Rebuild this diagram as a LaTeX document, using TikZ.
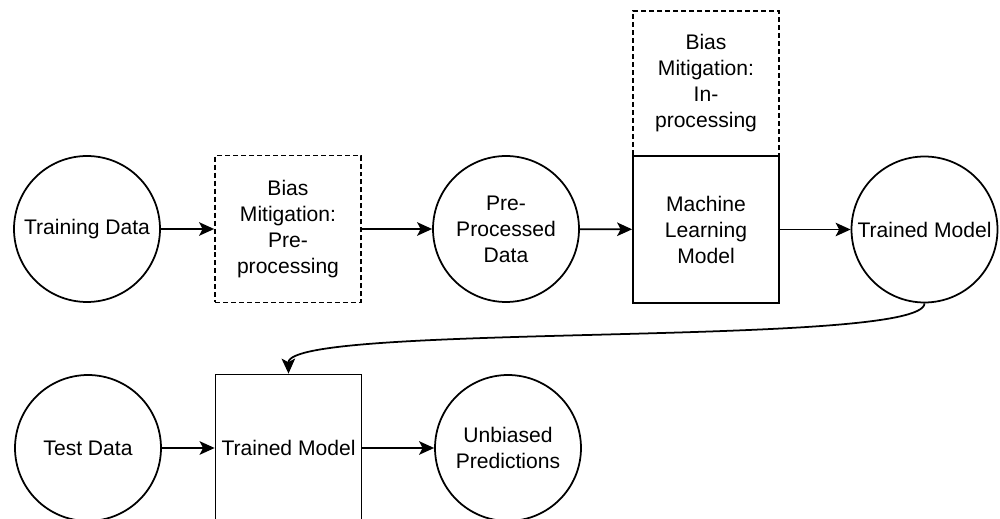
\documentclass[tikz,border=0pt]{standalone}
\usepackage{fontspec}
\setmainfont{Liberation Sans}
\usetikzlibrary{arrows.meta}
\begin{document}
\begin{tikzpicture}[x=0.02cm,y=-0.02cm,
  every node/.style={font=\fontsize{12}{14.8}\selectfont, align=center, line width=1pt},
  circ/.style={draw, circle, minimum size=2.92cm, inner sep=0pt},
  sbox/.style={draw, rectangle, minimum width=2.92cm, minimum height=2.94cm, inner sep=0pt},
  dbox/.style={sbox, dash pattern=on 0.1cm off 0.06cm},
  conn/.style={line width=1pt, -{Stealth[length=0.3cm, width=0.27cm, inset=0.07cm]}}
]
\useasboundingbox (0,0) rectangle (1000,519);
\node[circ] (train) at (87,229) {Training Data};
\node[dbox] (prebm) at (288,229) {Bias\\Mitigation:\\Pre-\\processing};
\node[circ] (ppd) at (506,229) {Pre-\\Processed\\Data};
\node[dbox, minimum height=2.9cm] (inbm) at (706,83.5) {Bias\\Mitigation:\\In-\\processing};
\node[sbox] (ml) at (706,229.5) {Machine\\Learning\\Model};
\node[circ] (tm) at (924.5,229.5) {Trained Model};
\node[circ] (test) at (88,448) {Test Data};
\node[sbox] (tm2) at (288.5,448) {Trained Model};
\node[circ] (unb) at (508,448) {Unbiased\\Predictions};
\draw[conn] (train) -- (prebm);
\draw[conn] (prebm) -- (ppd);
\draw[conn] (ppd) -- (ml);
\draw[conn] (ml) -- (tm);
\draw[conn] (test) -- (tm2);
\draw[conn] (tm2) -- (unb);
\draw[conn] (tm.south) .. controls (924,348) and (288,322) .. (tm2.north);
\end{tikzpicture}
\end{document}
